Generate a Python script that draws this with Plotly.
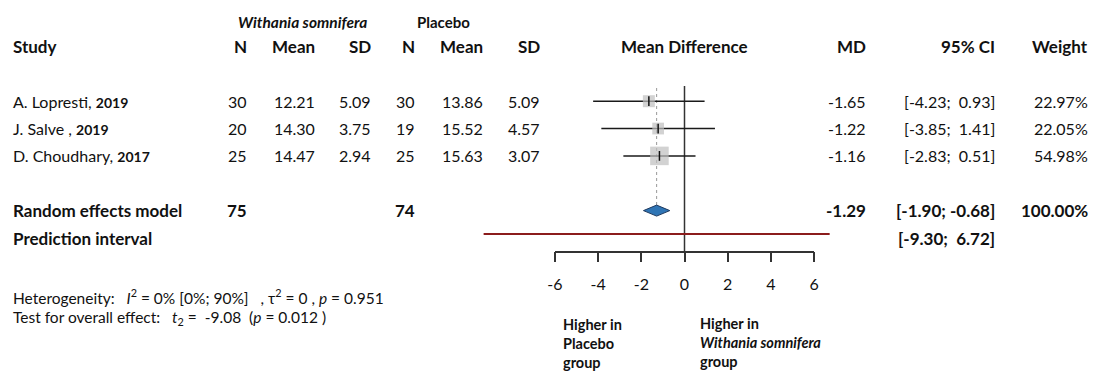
import plotly.graph_objects as go

# ---------------- data ----------------
studies = ["A. Lopresti,", "J. Salve ,", "D. Choudhary,"]
years = ["2019", "2019", "2017"]
n_ws = [30, 20, 25]
mean_ws = [12.21, 14.30, 14.47]
sd_ws = [5.09, 3.75, 2.94]
n_pl = [30, 19, 25]
mean_pl = [13.86, 15.52, 15.63]
sd_pl = [5.09, 4.57, 3.07]
md = [-1.65, -1.22, -1.16]
ci_lo = [-4.23, -3.85, -2.83]
ci_hi = [0.93, 1.41, 0.51]
weight = [22.97, 22.05, 54.98]

pooled_n_ws = 75
pooled_n_pl = 74
pooled_md = -1.29
pooled_lo = -1.90
pooled_hi = -0.68
pooled_weight = 100.00
pred_lo = -9.30
pred_hi = 6.72

tick_vals = [-6, -4, -2, 0, 2, 4, 6]
het_i2, het_i2_lo, het_i2_hi, het_tau2, het_p = "0%", "0%", "90%", "0", "0.951"
t_df, t_val, t_p = "2", "-9.08", "0.012"

# ---------------- layout constants ----------------
W, H = 1098, 371
ZERO_PX = 684.5
PPU = 21.6
ROW1_PX = 101.2
ROW_H = 27.35
FONT = "Lato"
TXT = "#111111"
REG = 16
BOLD = 17

x_range = [-ZERO_PX / PPU, (W - ZERO_PX) / PPU]
y_range = [1 + (H - ROW1_PX) / ROW_H, 1 - ROW1_PX / ROW_H]
study_rows = [1, 2, 3]
pooled_row = 5
pred_row = 5.86


def px_x(p):
    return p / W


def px_y(p):
    return 1 - p / H


def row_of_px(p):
    return 1 + (p - ROW1_PX) / ROW_H


annotations = []


def txt(s, x, y, anchor="left", size=REG, yref="paper", color=TXT):
    annotations.append(dict(text=s, x=px_x(x), y=y, xref="paper", yref=yref,
                            xanchor=anchor, yanchor="middle", showarrow=False,
                            font=dict(family=FONT, size=size, color=color)))


NB = "\u00a0"


def fmt_ci(lo, hi):
    hs = f"{hi:.2f}"
    pad = NB if hi >= 0 else ""
    return f"[{lo:.2f};{NB}{pad}{hs}]"


# header
txt("<b><i>Withania somnifera</i></b>", 302, px_y(21.7), "center", 15.5)
txt("<b>Placebo</b>", 443, px_y(21.7), "center", 15)
hy = px_y(46.7)
txt("<b>Study</b>", 11, hy, "left", BOLD)
for lab, xr in [("N", 249), ("Mean", 317), ("SD", 373), ("N", 417), ("Mean", 485), ("SD", 542),
                ("MD", 868), ("95% CI", 997), ("Weight", 1090)]:
    txt(f"<b>{lab}</b>", xr, hy, "right", BOLD)
txt("<b>Mean Difference</b>", 684, hy, "center", BOLD)

# study rows
for i, r in enumerate(study_rows):
    txt(f"{studies[i]} <b><span style='font-size:14px'>{years[i]}</span></b>", 11, r, "left", REG, "y")
    txt(f"{n_ws[i]}", 249, r, "right", REG, "y")
    txt(f"{mean_ws[i]:.2f}", 317, r, "right", REG, "y")
    txt(f"{sd_ws[i]:.2f}", 373, r, "right", REG, "y")
    txt(f"{n_pl[i]}", 417, r, "right", REG, "y")
    txt(f"{mean_pl[i]:.2f}", 485, r, "right", REG, "y")
    txt(f"{sd_pl[i]:.2f}", 542, r, "right", REG, "y")
    txt(f"{md[i]:.2f}", 868, r, "right", REG, "y")
    txt(fmt_ci(ci_lo[i], ci_hi[i]), 997, r, "right", REG, "y")
    txt(f"{weight[i]:.2f}%", 1090, r, "right", REG, "y")

# pooled
txt("<b>Random effects model</b>", 11, pooled_row, "left", BOLD, "y")
txt(f"<b>{pooled_n_ws}</b>", 249, pooled_row, "right", BOLD, "y")
txt(f"<b>{pooled_n_pl}</b>", 417, pooled_row, "right", BOLD, "y")
txt(f"<b>{pooled_md:.2f}</b>", 868, pooled_row, "right", BOLD, "y")
txt(f"<b>{fmt_ci(pooled_lo, pooled_hi)}</b>", 997, pooled_row, "right", BOLD, "y")
txt(f"<b>{pooled_weight:.2f}%</b>", 1090, pooled_row, "right", BOLD, "y")
txt("<b>Prediction interval</b>", 11, row_of_px(238.3), "left", BOLD, "y")
txt(f"<b>{fmt_ci(pred_lo, pred_hi)}</b>", 997, row_of_px(238.3), "right", BOLD, "y")

# footer stats
S3 = NB * 3
txt(f"Heterogeneity:{S3}<i>I</i><sup>2</sup> = {het_i2} [{het_i2_lo}; {het_i2_hi}]{S3}, "
    f"τ<sup>2</sup> = {het_tau2} , <i>p</i> = {het_p}", 11, px_y(296), "left", 15.5)
txt(f"Test for overall effect:{S3}<i>t</i><sub>{t_df}</sub> = {NB}{t_val}{NB} (<i>p</i> = {t_p} )",
    11, px_y(318), "left", 15.5)

# direction labels
annotations.append(dict(text="<b>Higher in<br>Placebo<br>group</b>", x=px_x(560.7), y=px_y(343),
                        xref="paper", yref="paper", xanchor="left", yanchor="middle", align="left",
                        showarrow=False, font=dict(family=FONT, size=14.5, color=TXT)))
annotations.append(dict(text="<b>Higher in<br><i>Withania somnifera</i><br>group</b>", x=px_x(698.3),
                        y=px_y(342), xref="paper", yref="paper", xanchor="left", yanchor="middle",
                        align="left", showarrow=False, font=dict(family=FONT, size=14.5, color=TXT)))

fig = go.Figure()

# CI lines for studies
for i, r in enumerate(study_rows):
    fig.add_trace(go.Scatter(x=[ci_lo[i], ci_hi[i]], y=[r, r], mode="lines",
                             line=dict(color="#1a1a1a", width=1.5), hoverinfo="skip", showlegend=False))
# weight squares
fig.add_trace(go.Scatter(x=md, y=study_rows, mode="markers",
                         marker=dict(symbol="square", color="#bfbfbf",
                                     size=[25 * (w / 100) ** 0.5 for w in weight],
                                     line=dict(width=0)),
                         hoverinfo="skip", showlegend=False))
fig.add_trace(go.Scatter(x=md, y=study_rows, mode="markers",
                         marker=dict(symbol="line-ns", size=7, line=dict(color="#111", width=1.5)),
                         hoverinfo="skip", showlegend=False))
# diamond
dh = 5.5 / ROW_H
fig.add_trace(go.Scatter(x=[pooled_lo, pooled_md, pooled_hi, pooled_md, pooled_lo],
                         y=[pooled_row, pooled_row - dh, pooled_row, pooled_row + dh, pooled_row],
                         mode="lines", fill="toself", fillcolor="#2f75b5",
                         line=dict(color="#1f3a5f", width=1), hoverinfo="skip", showlegend=False))
# prediction interval
fig.add_trace(go.Scatter(x=[pred_lo, pred_hi], y=[pred_row, pred_row], mode="lines",
                         line=dict(color="#8b1c1c", width=2), hoverinfo="skip", showlegend=False))
# helper trace for the bottom axis
fig.add_trace(go.Scatter(x=[0], y=[-100], mode="markers", marker=dict(opacity=0), xaxis="x2",
                         yaxis="y", hoverinfo="skip", showlegend=False))

shapes = [
    dict(type="line", xref="x", yref="paper", x0=0, x1=0, y0=px_y(251.7), y1=px_y(86),
         line=dict(color="#333", width=1.5), layer="below"),
    dict(type="line", xref="x", yref="paper", x0=pooled_md, x1=pooled_md, y0=px_y(205), y1=px_y(86),
         line=dict(color="#999", width=1, dash="dot"), layer="below"),
]

fig.update_layout(
    width=W, height=H, margin=dict(l=0, r=0, t=0, b=0, autoexpand=False),
    paper_bgcolor="white", plot_bgcolor="rgba(0,0,0,0)",
    xaxis=dict(range=x_range, domain=[0, 1], visible=False, fixedrange=True),
    xaxis2=dict(range=[tick_vals[0], tick_vals[-1]],
                domain=[(ZERO_PX + tick_vals[0] * PPU) / W, (ZERO_PX + tick_vals[-1] * PPU) / W],
                anchor="free", position=px_y(251.7), showline=True, linecolor="#333", linewidth=1.5,
                ticks="outside", ticklen=10, tickwidth=1.5, tickcolor="#333", tickvals=tick_vals,
                ticktext=[str(v) for v in tick_vals], showgrid=False, zeroline=False,
                tickfont=dict(family=FONT, size=16, color=TXT), ticklabelstandoff=8, fixedrange=True),
    yaxis=dict(range=y_range, domain=[0, 1], visible=False, fixedrange=True),
    annotations=annotations, shapes=shapes, showlegend=False,
)

fig.write_html("out.html", config={"displayModeBar": False},
               post_script="document.body.style.margin='0';document.body.style.overflow='hidden';")
